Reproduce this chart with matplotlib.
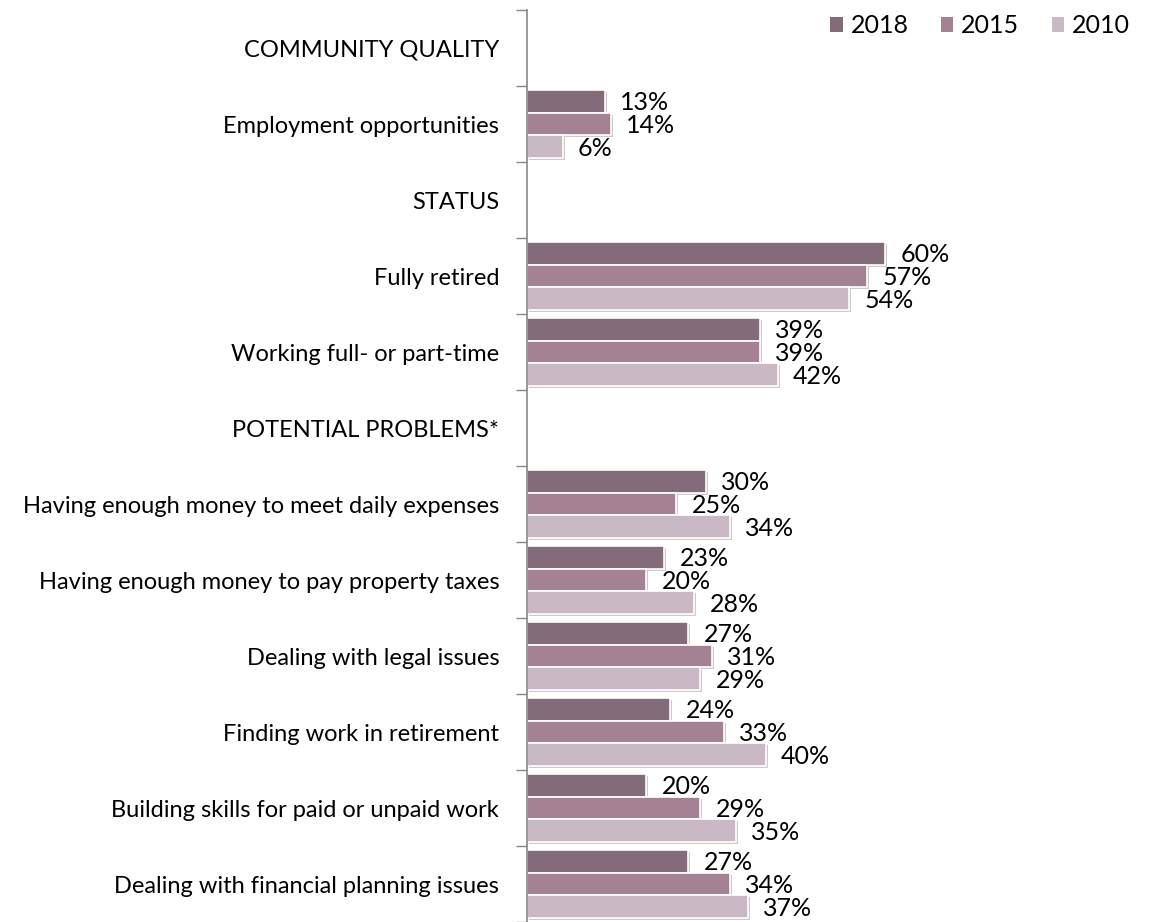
import matplotlib.pyplot as plt
import matplotlib.patheffects as pe
from matplotlib.patches import Patch
import numpy as np

plt.rcParams['font.family'] = ['Lato', 'DejaVu Sans']

categories = ['COMMUNITY QUALITY', 'Employment opportunities', 'STATUS', 'Fully retired',
              'Working full- or part-time', 'POTENTIAL PROBLEMS*',
              'Having enough money to meet daily expenses',
              'Having enough money to pay property taxes',
              'Dealing with legal issues', 'Finding work in retirement',
              'Building skills for paid or unpaid work',
              'Dealing with financial planning issues']
years = ['2018', '2015', '2010']
v2018 = [None, 13, None, 60, 39, None, 30, 23, 27, 24, 20, 27]
v2015 = [None, 14, None, 57, 39, None, 25, 20, 31, 33, 29, 34]
v2010 = [None, 6, None, 54, 42, None, 34, 28, 29, 40, 35, 37]
colors = ['#846b79', '#a48294', '#c9b9c4']

fig = plt.figure(figsize=(11.52, 9.22), dpi=100)
ax = fig.add_axes([527 / 1152, 0, 1 - 527 / 1152, 1 - 10 / 922])

n = len(categories)
y = np.arange(n)
h = 0.3
shadow = [pe.SimplePatchShadow(offset=(1.5, -1.5), shadow_rgbFace='#999999', alpha=0.5), pe.Normal()]
for k, (vals, c) in enumerate(zip([v2018, v2015, v2010], colors)):
    idx = [i for i, v in enumerate(vals) if v is not None]
    vv = [vals[i] for i in idx]
    pos = y[idx] + (k - 1) * h
    bars = ax.barh(pos, vv, height=h, color=c, edgecolor='white', linewidth=1.2)
    for b in bars:
        b.set_path_effects(shadow)
    for p, v in zip(pos, vv):
        ax.annotate(f'{v}%', (v, p), xytext=(11, -1), textcoords='offset points',
                    va='center', ha='left', fontsize=18, color='black')

ax.set_ylim(n - 0.5, -0.5)
ax.set_xlim(0, 104.7)
ax.set_yticks(y)
ax.set_yticklabels(categories, fontsize=17)
ax.set_yticks(np.arange(-0.5, n, 1), minor=True)
ax.tick_params(axis='y', which='major', length=0, pad=20)
ax.tick_params(axis='y', which='minor', length=8, width=1, color='#888888', direction='out')
ax.set_xticks([])
for s in ['top', 'right', 'bottom']:
    ax.spines[s].set_visible(False)
ax.spines['left'].set_color('#888888')
ax.spines['left'].set_linewidth(1.2)

handles = [Patch(facecolor=c, edgecolor='none') for c in colors]
ax.legend(handles, years, loc='upper right', bbox_to_anchor=(1.0, 1.02), ncol=3, frameon=False,
          fontsize=18, handlelength=0.5, handleheight=0.5, handletextpad=0.3, columnspacing=1.3)

plt.savefig('out.png', dpi=100)
